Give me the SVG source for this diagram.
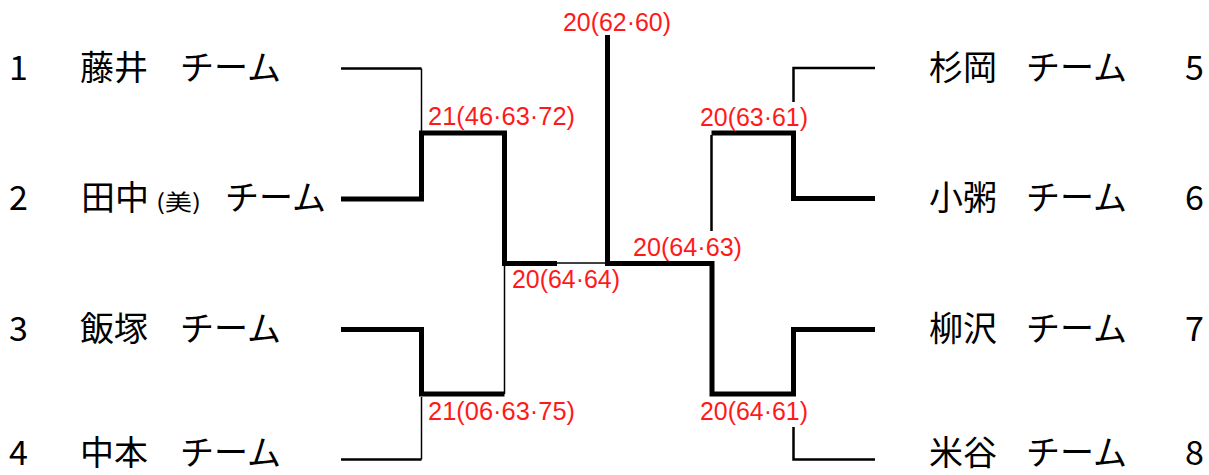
<svg xmlns="http://www.w3.org/2000/svg" width="1209" height="475" viewBox="0 0 1209 475">
<style>
.t{font-family:"Noto Sans CJK JP","Liberation Sans",sans-serif;font-size:34px;fill:#000}
.s{font-family:"Noto Sans CJK JP","Liberation Sans",sans-serif;font-size:22px;fill:#000}
.r{font-family:"Liberation Sans","Noto Sans CJK JP",sans-serif;font-size:25px;fill:#ff1a1a}
.k{fill:none;stroke:#000;stroke-width:5;stroke-linejoin:miter;stroke-linecap:butt}
.n{fill:none;stroke:#000;stroke-width:2.5;stroke-linecap:butt}
.h{fill:none;stroke:#000;stroke-width:1.5;stroke-linecap:butt}
</style>
<rect width="1209" height="475" fill="#fff"/>
<g id="connectors">
<path class="n" d="M341,68.5H421.5"/>
<path class="h" d="M421.5,68.5V131"/>
<path class="k" d="M341,199H421.5V133H504.5V263.5H557"/>
<path class="h" d="M557,263H607"/>
<path class="k" d="M341,329.5H421.5V394H504.5"/>
<path class="h" d="M504.5,266V394"/>
<path class="n" d="M341,459.5H421.5"/>
<path class="h" d="M421.5,397V459.5"/>
<path class="n" d="M875,68H793.5V102"/>
<path class="k" d="M875,198.5H793.5V133H711.5"/>
<path class="n" d="M711.5,135V231"/>
<path class="k" d="M875,329.5H793.5V394H712V263.5H607.5V35"/>
<path class="n" d="M875,459.5H793.5V427"/>
</g>
<g id="team1"><text class="t" x="9" y="80">1</text><text class="t" x="80" y="80">藤井</text><text class="t" x="180" y="80">チーム</text></g>
<g id="team2"><text class="t" x="9" y="210">2</text><text class="t" x="81" y="210">田中</text><text class="s" x="156" y="210" textLength="45" lengthAdjust="spacingAndGlyphs">(美)</text><text class="t" x="225" y="210">チーム</text></g>
<g id="team3"><text class="t" x="9" y="341">3</text><text class="t" x="80" y="341">飯塚</text><text class="t" x="180" y="341">チーム</text></g>
<g id="team4"><text class="t" x="9" y="465">4</text><text class="t" x="80" y="465">中本</text><text class="t" x="180" y="465">チーム</text></g>
<g id="team5"><text class="t" x="929" y="80">杉岡</text><text class="t" x="1026" y="80">チーム</text><text class="t" x="1185" y="80">5</text></g>
<g id="team6"><text class="t" x="929" y="210">小粥</text><text class="t" x="1026" y="210">チーム</text><text class="t" x="1185" y="210">6</text></g>
<g id="team7"><text class="t" x="929" y="341">柳沢</text><text class="t" x="1026" y="341">チーム</text><text class="t" x="1185" y="341">7</text></g>
<g id="team8"><text class="t" x="929" y="465">米谷</text><text class="t" x="1026" y="465">チーム</text><text class="t" x="1185" y="465">8</text></g>
<g id="scores">
<text class="r" x="563" y="30.5" textLength="108" lengthAdjust="spacingAndGlyphs">20(62·60)</text>
<text class="r" x="428" y="125" textLength="147" lengthAdjust="spacingAndGlyphs">21(46·63·72)</text>
<text class="r" x="700" y="126" textLength="108" lengthAdjust="spacingAndGlyphs">20(63·61)</text>
<text class="r" x="633" y="256" textLength="109" lengthAdjust="spacingAndGlyphs">20(64·63)</text>
<text class="r" x="512" y="288" textLength="108" lengthAdjust="spacingAndGlyphs">20(64·64)</text>
<text class="r" x="428" y="420" textLength="147" lengthAdjust="spacingAndGlyphs">21(06·63·75)</text>
<text class="r" x="700" y="420" textLength="108" lengthAdjust="spacingAndGlyphs">20(64·61)</text>
</g>
</svg>
